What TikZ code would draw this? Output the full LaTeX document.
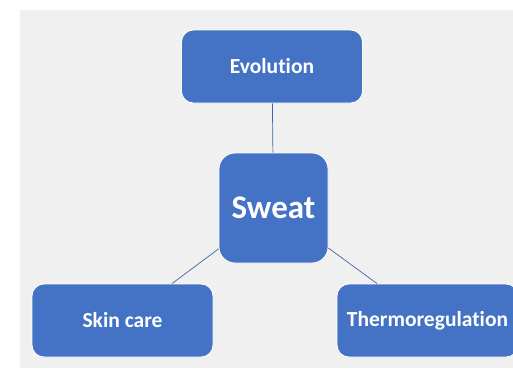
\documentclass[tikz,border=0pt]{standalone}
\usepackage{fontspec}
\setmainfont[Ligatures=NoCommon]{Carlito}
\usepackage{tikz}
\usetikzlibrary{positioning}
\definecolor{MapBlue}{HTML}{4472C4}
\definecolor{MapLine}{HTML}{3F64A8}
\definecolor{MapBack}{HTML}{F0F0F0}

\begin{document}
\begin{tikzpicture}[
    x=1pt, y=1pt,
    topic/.style={
      draw=white,
      line width=0.8pt,
      fill=MapBlue,
      text=white,
      minimum width=181pt,
      minimum height=73pt,
      rounded corners=12pt,
      font=\fontsize{21.5}{25}\selectfont\bfseries
    },
    hub/.style={
      draw=white,
      line width=0.8pt,
      fill=MapBlue,
      text=white,
      minimum width=109pt,
      minimum height=110pt,
      rounded corners=16pt,
      font=\fontsize{33}{38}\selectfont\bfseries
    },
    link/.style={
      line width=0.7pt,
      color=MapLine
    }
  ]

  % Canvas
  \useasboundingbox (0,0) rectangle (513,368);
  \fill[MapBack] (20,0) rectangle (513,358);

  % Centre
  \node[hub] (sweat) at (273.5,160) {Sweat};

  % Topics
  \node[topic] (evo) at (272,301.5) {Evolution};
  \node[topic] (skin) at (122.5,47.5) {Skin care};
  \node[topic] (thermo) at (427.5,47.5) {Thermoregulation};

  % Links
  \draw[link] (evo) -- (sweat);
  \draw[link] (sweat) -- (skin);
  \draw[link] (sweat) -- (thermo);

\end{tikzpicture}
\end{document}
